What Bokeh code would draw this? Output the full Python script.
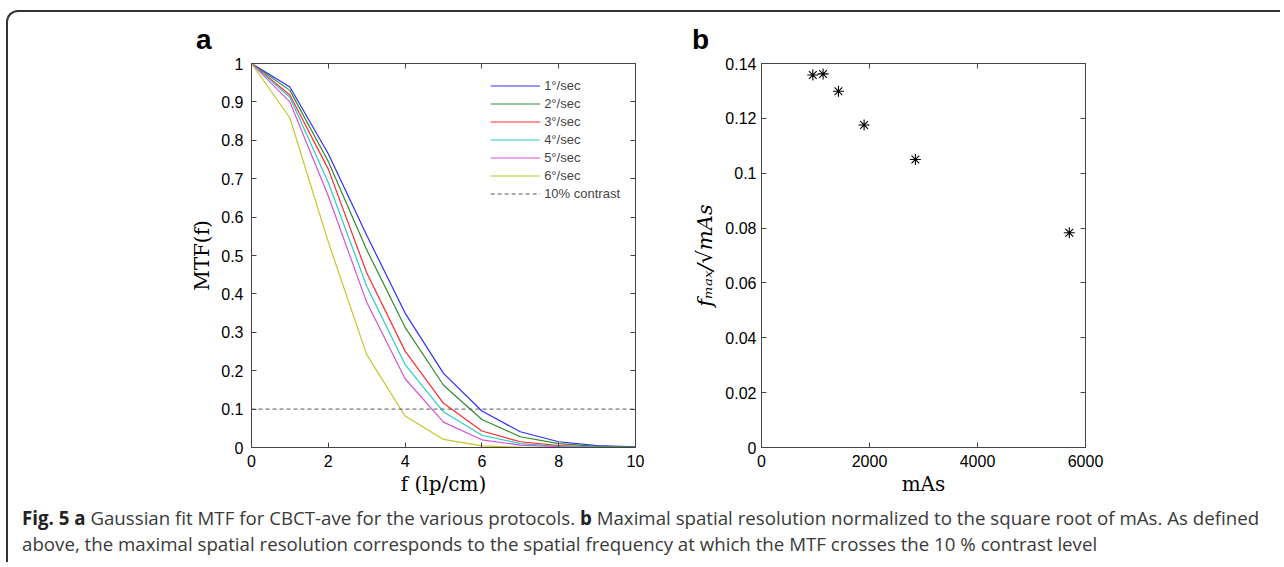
from bokeh.plotting import figure
from bokeh.models import Legend, LegendItem, Div, LinearAxis, FixedTicker
from bokeh.layouts import column, row
from bokeh.embed import file_html
from bokeh.resources import INLINE

# ---------------- data ----------------
freq = [0, 1, 2, 3, 4, 5, 6, 7, 8, 9, 10]
mtf_1 = [1.0, 0.939, 0.765, 0.553, 0.350, 0.193, 0.095, 0.041, 0.015, 0.005, 0.002]
mtf_2 = [1.0, 0.930, 0.745, 0.515, 0.313, 0.162, 0.073, 0.028, 0.010, 0.003, 0.001]
mtf_3 = [1.0, 0.918, 0.725, 0.455, 0.251, 0.115, 0.043, 0.015, 0.005, 0.001, 0.000]
mtf_4 = [1.0, 0.912, 0.690, 0.420, 0.216, 0.093, 0.032, 0.010, 0.003, 0.001, 0.000]
mtf_5 = [1.0, 0.900, 0.655, 0.378, 0.179, 0.066, 0.020, 0.006, 0.002, 0.000, 0.000]
mtf_6 = [1.0, 0.858, 0.535, 0.242, 0.082, 0.021, 0.004, 0.001, 0.000, 0.000, 0.000]
series_labels = ["1°/sec", "2°/sec", "3°/sec", "4°/sec", "5°/sec", "6°/sec"]
contrast_level = 0.1
contrast_label = "10% contrast"

a_xticks = [0, 2, 4, 6, 8, 10]
a_yticks = [0, 0.1, 0.2, 0.3, 0.4, 0.5, 0.6, 0.7, 0.8, 0.9, 1]
a_ytick_labels = ["0", "0.1", "0.2", "0.3", "0.4", "0.5", "0.6", "0.7", "0.8", "0.9", "1"]

mas = [950, 1140, 1425, 1900, 2850, 5700]
fmax_norm = [0.1358, 0.1362, 0.1299, 0.1176, 0.1050, 0.0783]
b_xticks = [0, 2000, 4000, 6000]
b_yticks = [0, 0.02, 0.04, 0.06, 0.08, 0.1, 0.12, 0.14]
b_ytick_labels = ["0", "0.02", "0.04", "0.06", "0.08", "0.1", "0.12", "0.14"]

colors = ["#2e2eff", "#2e8b2e", "#ff2a2a", "#2ccaca", "#d552d5", "#c6c628"]
AX = "#444444"
TICKFONT = "Liberation Sans"
SERIF = "DejaVu Serif"


def style_axes(p, xticks, yticks, ylabels):
    bottom = p.below[0]
    left = p.left[0]
    top = LinearAxis()
    right = LinearAxis()
    p.add_layout(top, "above")
    p.add_layout(right, "right")
    for ax in [bottom, top]:
        ax.ticker = FixedTicker(ticks=xticks)
    for ax in [left, right]:
        ax.ticker = FixedTicker(ticks=yticks)
        ax.major_label_overrides = {t: l for t, l in zip(yticks, ylabels)}
    for ax in [bottom, left, top, right]:
        ax.major_tick_in = 5
        ax.major_tick_out = 0
        ax.minor_tick_line_color = None
        ax.axis_line_color = AX
        ax.major_tick_line_color = AX
        ax.major_label_text_font = TICKFONT
        ax.major_label_text_font_size = "16px"
        ax.major_label_text_color = "black"
        ax.axis_label_text_font = SERIF
        ax.axis_label_text_font_size = "20px"
        ax.axis_label_text_font_style = "normal"
        ax.axis_label_text_color = "black"
    for ax in [top, right]:
        ax.major_label_text_color = None
        ax.major_label_text_alpha = 0
        ax.major_label_text_font_size = "1px"
        ax.major_label_standoff = 0
    bottom.major_label_standoff = 7
    left.major_label_standoff = 8
    p.grid.visible = False
    p.outline_line_color = AX
    return bottom, left


# ---------------- panel a ----------------
p1 = figure(frame_width=384, frame_height=384, x_range=(0, 10), y_range=(0, 1),
            output_backend="svg", toolbar_location=None,
            min_border_left=243, min_border_right=40, min_border_top=7, min_border_bottom=53)
bx1, ly1 = style_axes(p1, a_xticks, a_yticks, a_ytick_labels)
bx1.axis_label = "f (lp/cm)"
ly1.axis_label = "MTF(f)"
bx1.axis_label_standoff = 2
ly1.axis_label_standoff = 4

renderers = []
for ys, c in zip([mtf_1, mtf_2, mtf_3, mtf_4, mtf_5, mtf_6], colors):
    renderers.append(p1.line(freq, ys, line_color=c, line_width=1.2))
r_dash = p1.line([freq[0], freq[-1]], [contrast_level, contrast_level],
                 line_color="#555555", line_dash="4 3", line_width=1)

items = [LegendItem(label=l, renderers=[r]) for l, r in zip(series_labels, renderers)]
items.append(LegendItem(label=contrast_label, renderers=[r_dash]))
legend = Legend(items=items, location="top_right", glyph_width=50, glyph_height=15,
                label_height=15, spacing=3, label_standoff=4, padding=5, margin=10,
                border_line_alpha=0, background_fill_alpha=0,
                label_text_font=TICKFONT, label_text_font_size="13px")
p1.add_layout(legend)

# ---------------- panel b ----------------
p2 = figure(frame_width=324, frame_height=384, x_range=(0, 6000), y_range=(0, 0.14),
            output_backend="svg", toolbar_location=None,
            min_border_left=86, min_border_right=150, min_border_top=7, min_border_bottom=53)
bx2, ly2 = style_axes(p2, b_xticks, b_yticks, b_ytick_labels)
bx2.axis_label = "mAs"
ly2.axis_label = "fₘₐₓ/√mAs"
ly2.axis_label_text_font_style = "italic"
ly2.axis_label_text_font_size = "21px"
bx2.axis_label_standoff = 2
ly2.major_label_standoff = 5
ly2.axis_label_standoff = 5
p2.scatter(mas, fmax_norm, marker="asterisk", size=11, line_color="black", line_width=1.1)

# ---------------- panel letters ----------------
letter_style = {"font-family": "Liberation Sans", "font-size": "28px", "font-weight": "bold",
                "line-height": "28px", "color": "black"}
div_a = Div(text="a", width=30, height=30, margin=(14, 0, 0, 188), styles=letter_style)
div_b = Div(text="b", width=30, height=30, margin=(14, 0, 0, 466), styles=letter_style)
header = row(div_a, div_b)

# ---------------- caption ----------------
cap_html = ('<b style="color:#222">Fig. 5 a</b> Gaussian fit MTF for CBCT-ave for the various protocols. '
            '<b style="color:#222">b</b> Maximal spatial resolution normalized to the square root of mAs. As defined<br>'
            'above, the maximal spatial resolution corresponds to the spatial frequency at which the MTF crosses the 10 % contrast level')
caption = Div(text=cap_html, width=1262,
              styles={"font-family": "Open Sans", "font-size": "18.7px", "line-height": "26px",
                      "color": "#3a3a3a", "padding-left": "9px", "padding-top": "0px",
                      "white-space": "nowrap"})

layout = column(header, row(p1, p2), caption,
                styles={"border-left": "2px solid #333", "border-top": "2px solid #333",
                        "border-top-left-radius": "12px", "margin-left": "6px", "margin-top": "10px"})

open("out.html", "w").write(file_html(layout, INLINE))
